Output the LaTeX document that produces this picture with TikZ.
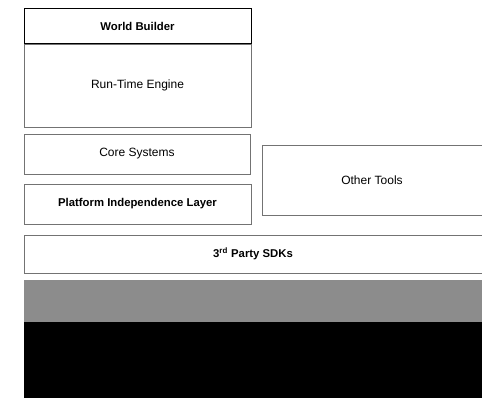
\documentclass[tikz,border=0pt]{standalone}
\usepackage{fontspec}
\setmainfont{Liberation Sans}
\tikzset{every picture/.style={line width=0.75pt}}
\begin{document}
\begin{tikzpicture}[x=0.75pt,y=0.75pt,yscale=-1,xscale=1]
        \useasboundingbox (0,0) rectangle (482,398);
        \tikzset{faint/.style={draw=black!55,line width=0.5pt}}
        % layers
        \draw   (24,9) -- (251,9) -- (251,44) -- (24,44) -- cycle ;
        \draw [faint]  (24,44) -- (251,44) -- (251,127) -- (24,127) -- cycle ;
        \draw [faint]  (24,134) -- (250,134) -- (250,174) -- (24,174) -- cycle ;
        \draw [faint]  (24,184) -- (251,184) -- (251,224) -- (24,224) -- cycle ;
        \draw [faint]  (262,145) -- (482,145) -- (482,215) -- (262,215) -- cycle ;
        \draw [faint]  (24,235) -- (482,235) -- (482,273) -- (24,273) -- cycle ;
        % dark band at the bottom
        \fill [black!45]  (24,280) rectangle (482,322) ;
        \fill [black]  (24,322) rectangle (482,398) ;

        \draw (137.5,26.5) node (wb) [inner sep=0.75pt]  {\fontsize{8.5}{10}\selectfont\bfseries World Builder};
        \draw (137.5,85.5) node (rte) [inner sep=0.75pt]  {\fontsize{9}{11}\selectfont Run-Time Engine};
        \draw (137,154) node (cs) [inner sep=0.75pt]  {\fontsize{9}{11}\selectfont Core Systems};
        \draw (137.5,204) node (pil) [inner sep=0.75pt]  {\fontsize{8.5}{10}\selectfont\bfseries Platform Independence Layer};
        \draw (372,180) node (ot) [inner sep=0.75pt]  {\fontsize{9}{11}\selectfont Other Tools};
        \draw (253,254) node (sdk) [inner sep=0.75pt]  {\fontsize{8.5}{10}\selectfont\bfseries 3\textsuperscript{rd} Party SDKs};
\end{tikzpicture}
\end{document}
